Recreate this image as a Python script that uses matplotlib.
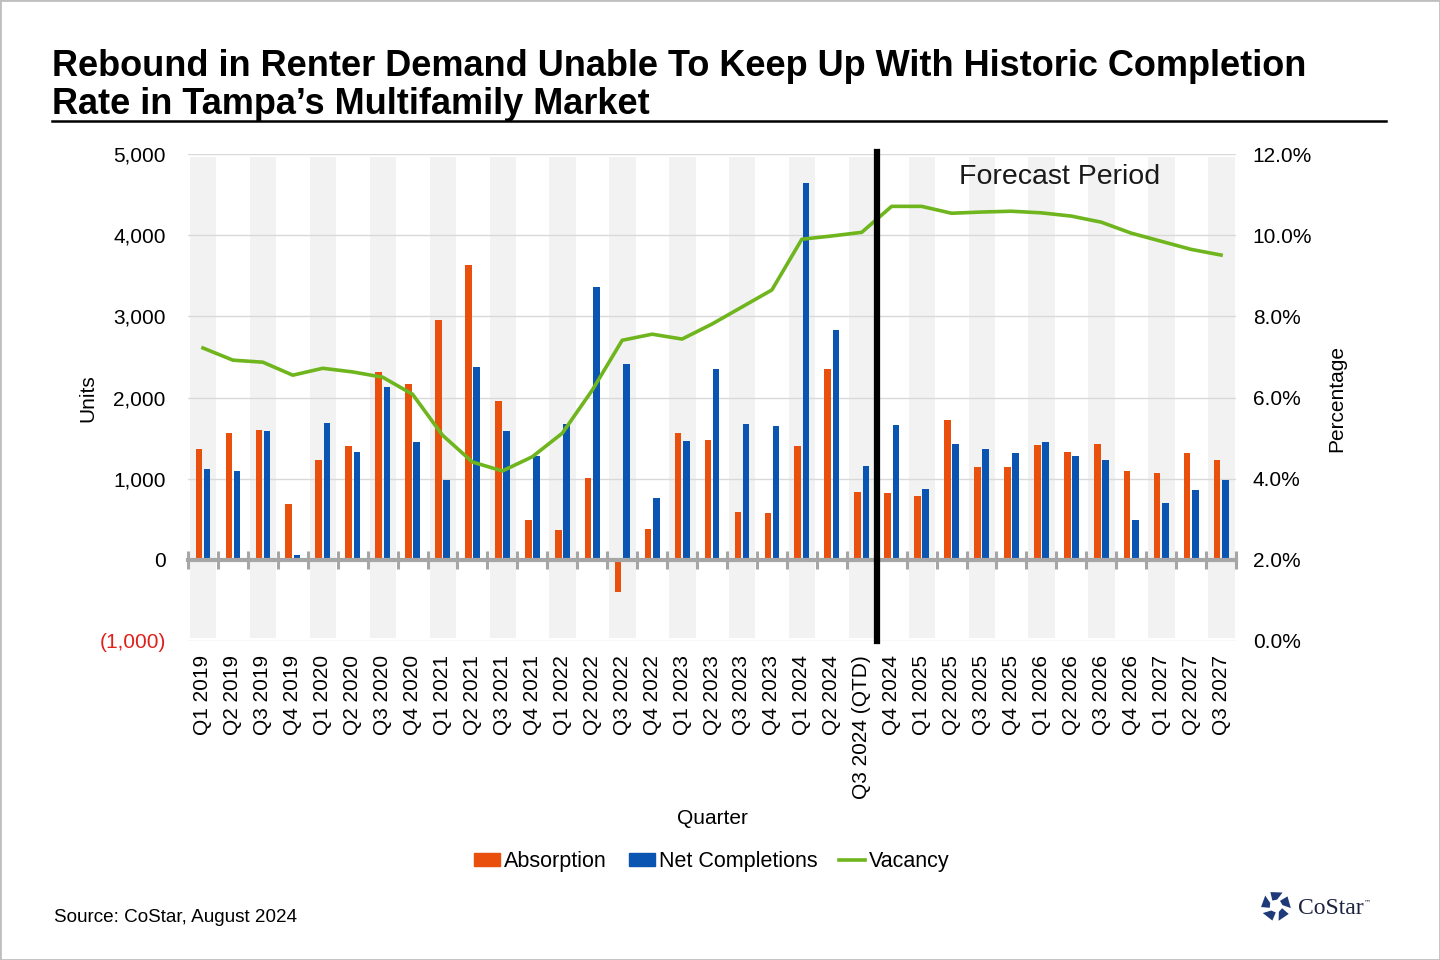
import matplotlib
matplotlib.use('Agg')
import matplotlib.pyplot as plt
import numpy as np
from matplotlib.patches import Polygon, Rectangle, Patch
from matplotlib.lines import Line2D

plt.rcParams['font.family'] = ['Liberation Sans', 'DejaVu Sans']

quarters = ['Q1 2019', 'Q2 2019', 'Q3 2019', 'Q4 2019',
            'Q1 2020', 'Q2 2020', 'Q3 2020', 'Q4 2020',
            'Q1 2021', 'Q2 2021', 'Q3 2021', 'Q4 2021',
            'Q1 2022', 'Q2 2022', 'Q3 2022', 'Q4 2022',
            'Q1 2023', 'Q2 2023', 'Q3 2023', 'Q4 2023',
            'Q1 2024', 'Q2 2024', 'Q3 2024 (QTD)', 'Q4 2024',
            'Q1 2025', 'Q2 2025', 'Q3 2025', 'Q4 2025',
            'Q1 2026', 'Q2 2026', 'Q3 2026', 'Q4 2026',
            'Q1 2027', 'Q2 2027', 'Q3 2027']

absorption = [1367, 1564, 1601, 690, 1231, 1404, 2315, 2167, 2956, 3633, 1958, 493,
              369, 1010, -394, 382, 1564, 1478, 591, 579, 1404, 2352, 837, 825,
              788, 1724, 1145, 1145, 1416, 1330, 1429, 1096, 1071, 1318, 1231]

net_completions = [1121, 1096, 1589, 62, 1687, 1330, 2130, 1453, 985, 2377, 1589, 1281,
                   1675, 3362, 2414, 764, 1466, 2352, 1675, 1650, 4643, 2833, 1158, 1663,
                   874, 1429, 1367, 1318, 1453, 1281, 1231, 493, 702, 862, 985]

vacancy = [7.22, 6.92, 6.87, 6.55, 6.72, 6.63, 6.50, 6.08, 5.07, 4.41, 4.19, 4.54,
           5.12, 6.18, 7.41, 7.56, 7.44, 7.81, 8.23, 8.65, 9.90, 9.98, 10.07, 10.71,
           10.71, 10.54, 10.57, 10.59, 10.55, 10.47, 10.32, 10.05, 9.85, 9.65, 9.51]

units_ticks = [-1000, 0, 1000, 2000, 3000, 4000, 5000]
pct_ticks = [0, 2, 4, 6, 8, 10, 12]
forecast_start = 'Q4 2024'

ORANGE = '#E9500E'
BLUE = '#0B55B2'
GREEN = '#6FB51E'

W, H = 1440, 960
fig = plt.figure(figsize=(W / 100, H / 100), dpi=100)


def fx(px):
    return px / W


def fy(py):
    return 1 - py / H


ax = fig.add_axes([fx(188), fy(641), fx(1236) - fx(188), fy(154) - fy(641)])
x = np.arange(len(quarters))
ax.set_xlim(-0.5, len(quarters) - 0.5)
ax.set_ylim(units_ticks[0], units_ticks[-1])

# alternating shaded bands
for i in x[::2]:
    ax.axvspan(i - 0.43, i + 0.45, ymin=0.006, ymax=0.994, color='#F2F2F2', lw=0, zorder=0)

ax.bar(x - 0.135, absorption, 0.22, color=ORANGE, zorder=2)
ax.bar(x + 0.14, net_completions, 0.22, color=BLUE, zorder=2)

ax.set_yticks(units_ticks)
ax.set_yticklabels(['({:,})'.format(-v) if v < 0 else '{:,}'.format(v) for v in units_ticks])
for lab, v in zip(ax.get_yticklabels(), units_ticks):
    if v < 0:
        lab.set_color('#E0201B')
ax.yaxis.grid(True, color='#D9D9D9', lw=1)
ax.set_axisbelow(True)
ax.tick_params(axis='y', length=0, pad=16, labelsize=15)

ax.set_xticks(x)
ax.set_xticks(np.arange(-0.5, len(quarters), 1), minor=True)
ax.set_xticklabels(quarters)
ax.tick_params(axis='x', which='major', length=0, pad=10, labelsize=15, top=False,
               bottom=True, labelrotation=90)
ax.tick_params(axis='x', which='minor', top=True, bottom=False, direction='inout',
               length=13, width=2.2, color='#A6A6A6')

for s in ['left', 'right', 'bottom']:
    ax.spines[s].set_visible(False)
ax.spines['top'].set_position(('data', 0))
ax.spines['top'].set_color('#A6A6A6')
ax.spines['top'].set_linewidth(3)
ax.spines['top'].set_zorder(3)

ax2 = ax.twinx()
ax2.set_ylim(pct_ticks[0], pct_ticks[-1])
ax2.set_yticks(pct_ticks)
ax2.set_yticklabels(['{:.1f}%'.format(v) for v in pct_ticks])
ax2.tick_params(axis='y', length=0, pad=12, labelsize=15)
for s in ax2.spines.values():
    s.set_visible(False)
ax2.plot(x, vacancy, color=GREEN, lw=2.6, zorder=3)

fc = quarters.index(forecast_start) - 0.5
ax2.axvline(fc, ymin=0, ymax=1.005, color='black', lw=4.5, zorder=5, clip_on=False)
ax2.text(0.832, 0.953, 'Forecast Period', transform=ax2.transAxes, ha='center', va='center',
         fontsize=20.5, color='#1a1a1a')

# axis titles
fig.text(fx(88), fy(398), 'Units', rotation=90, ha='center', va='center', fontsize=15)
fig.text(fx(1337), fy(398), 'Percentage', rotation=90, ha='center', va='center', fontsize=15)
fig.text(fx(712), fy(818), 'Quarter', ha='center', va='center', fontsize=15)

# legend
handles = [Patch(color=ORANGE, label='Absorption'),
           Patch(color=BLUE, label='Net Completions'),
           Line2D([], [], color=GREEN, lw=2.6, label='Vacancy')]
fig.legend(handles=handles, loc='center', bbox_to_anchor=(fx(712), fy(862)), ncol=3,
           frameon=False, fontsize=15.5, handlelength=1.2, handleheight=0.55,
           handletextpad=0.2, columnspacing=1.0)

# title
fig.text(fx(52), fy(76), 'Rebound in Renter Demand Unable To Keep Up With Historic Completion',
         fontsize=26, fontweight='bold', ha='left', va='baseline')
fig.text(fx(52), fy(114), 'Rate in Tampa\u2019s Multifamily Market',
         fontsize=26, fontweight='bold', ha='left', va='baseline')
fig.add_artist(Line2D([fx(52), fx(1386)], [fy(121), fy(121)], color='black', lw=1.8))

# source
fig.text(fx(54), fy(918), 'Source: CoStar, August 2024', fontsize=13.6, ha='left', va='center')

# CoStar logo
cx, cy = 1276, 906
for k in range(5):
    a = np.deg2rad(90 + 72 * k)
    pts = []
    for r, da in [(15, -26), (15, 22), (6.5, 34), (6.5, -10)]:
        ang = a + np.deg2rad(da)
        pts.append((fx(cx + r * np.cos(ang)), fy(cy - r * np.sin(ang))))
    fig.add_artist(Polygon(pts, closed=True, transform=fig.transFigure,
                           facecolor='#1E3A78', edgecolor='none'))
fig.text(fx(1298), fy(908), 'CoStar', family=['Liberation Serif', 'DejaVu Serif'],
         fontsize=17, color='#1C2340', ha='left', va='center')
fig.text(fx(1364), fy(902), '\u2122', family=['DejaVu Sans'], fontsize=5, color='#1C2340',
         ha='left', va='center')

# figure border
fig.add_artist(Rectangle((0, 0), 1, 1, transform=fig.transFigure, fill=False,
                         edgecolor='#BFBFBF', lw=2))

fig.savefig('out.png', dpi=100)
